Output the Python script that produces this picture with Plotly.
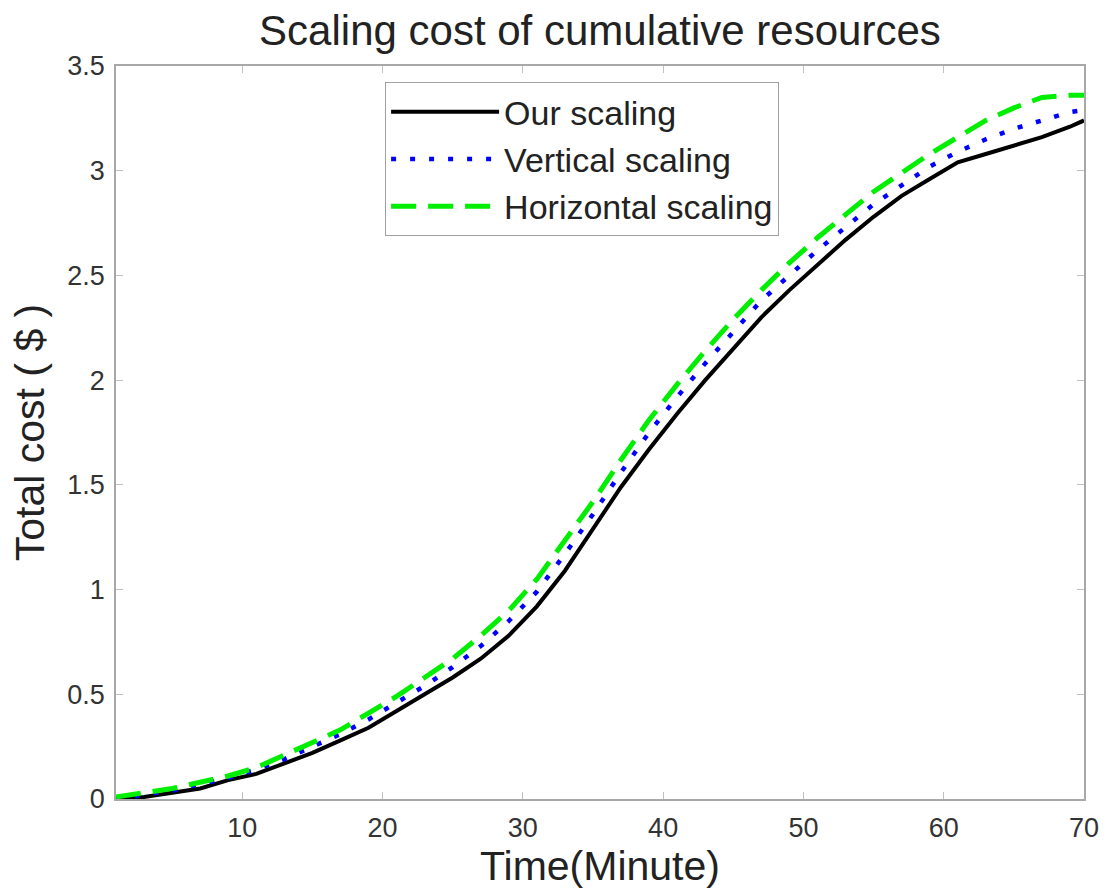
import plotly.graph_objects as go

# Time in minutes
minutes = [1, 3, 5, 7, 9, 11, 13, 15, 17, 19, 21, 23, 25, 27, 29, 31, 33, 35,
           37, 39, 41, 43, 45, 47, 49, 51, 53, 55, 57, 59, 61, 63, 65, 67, 69, 70]

# Cumulative cost ($) for each scaling strategy
our_scaling = [0.00, 0.01, 0.03, 0.05, 0.09, 0.12, 0.17, 0.22, 0.28, 0.34, 0.42, 0.50,
               0.58, 0.67, 0.78, 0.92, 1.09, 1.29, 1.49, 1.67, 1.84, 2.00, 2.15, 2.30,
               2.43, 2.55, 2.67, 2.78, 2.88, 2.96, 3.04, 3.08, 3.12, 3.16, 3.21, 3.24]
vertical_scaling = [0.00, 0.02, 0.04, 0.07, 0.10, 0.14, 0.19, 0.25, 0.31, 0.38, 0.46, 0.54,
                    0.63, 0.73, 0.85, 0.99, 1.17, 1.36, 1.56, 1.75, 1.92, 2.08, 2.23, 2.38,
                    2.50, 2.62, 2.73, 2.84, 2.93, 3.02, 3.09, 3.15, 3.20, 3.24, 3.28, 3.29]
horizontal_scaling = [0.01, 0.03, 0.05, 0.08, 0.11, 0.15, 0.21, 0.27, 0.33, 0.41, 0.49, 0.58,
                      0.67, 0.78, 0.90, 1.05, 1.23, 1.42, 1.62, 1.81, 1.98, 2.14, 2.29, 2.43,
                      2.56, 2.68, 2.79, 2.90, 2.99, 3.08, 3.16, 3.24, 3.30, 3.35, 3.36, 3.36]

x_ticks = [10, 20, 30, 40, 50, 60, 70]
y_ticks = [0, 0.5, 1, 1.5, 2, 2.5, 3, 3.5]
y_tick_text = ["0", "0.5", "1", "1.5", "2", "2.5", "3", "3.5"]

FONT = "Liberation Sans, Arial, Helvetica, sans-serif"

fig = go.Figure()
fig.add_trace(go.Scatter(x=minutes, y=our_scaling, mode="lines", name="Our scaling",
                         line=dict(color="black", width=4)))
fig.add_trace(go.Scatter(x=minutes, y=vertical_scaling, mode="lines", name="Vertical scaling",
                         line=dict(color="#0000ff", width=4.5, dash="5px,14px")))
fig.add_trace(go.Scatter(x=minutes, y=horizontal_scaling, mode="lines", name="Horizontal scaling",
                         line=dict(color="#00ee00", width=5, dash="25px,12px")))

axis_common = dict(
    showline=True, linecolor="#a8a8a8", linewidth=1.5, mirror="ticks",
    ticks="inside", ticklen=7, tickcolor="#c0c0c0", tickwidth=1,
    showgrid=False, zeroline=False,
    tickfont=dict(family=FONT, size=27, color="#333333"),
)

fig.update_layout(
    width=1111, height=894,
    margin=dict(l=116, r=25, t=66, b=95),
    paper_bgcolor="white", plot_bgcolor="white",
    title=dict(text="Scaling cost of cumulative resources", x=0.54, xanchor="center",
               y=0.966, yanchor="middle",
               font=dict(family=FONT, size=42, color="#222222")),
    xaxis=dict(range=[1, 70], tickvals=x_ticks, ticklabelstandoff=4,
               title=dict(text="Time(Minute)", font=dict(family=FONT, size=41, color="#222222"),
                          standoff=2),
               **axis_common),
    yaxis=dict(range=[0, 3.5], tickvals=y_ticks, ticktext=y_tick_text, ticklabelstandoff=4,
               title=dict(text="Total cost ( $ )", font=dict(family=FONT, size=41, color="#222222"),
                          standoff=10),
               **axis_common),
    legend=dict(x=0.278, y=0.978, xanchor="left", yanchor="top",
                bordercolor="#a0a0a0", borderwidth=1, bgcolor="white",
                font=dict(family=FONT, size=34, color="#222222"),
                itemwidth=108, tracegroupgap=0),
    showlegend=True,
)

fig.write_html("out.html")
